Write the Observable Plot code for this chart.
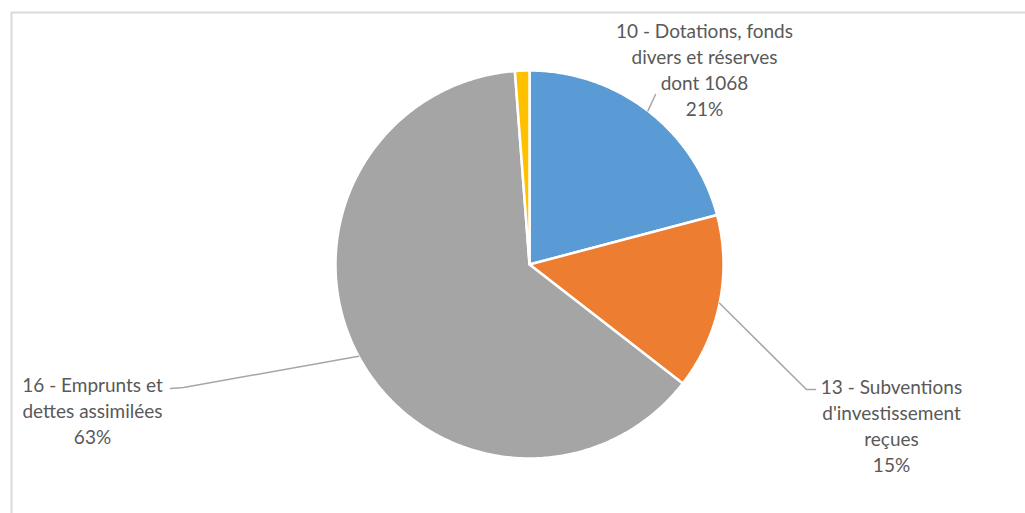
<!DOCTYPE html>
<html><head><meta charset="utf-8">
<script src="https://cdn.jsdelivr.net/npm/d3@7"></script>
<script src="https://cdn.jsdelivr.net/npm/@observablehq/plot@0.6"></script>
<style>html,body{margin:0;padding:0;background:#fff;overflow:hidden}</style>
</head><body><div id="chart"></div>
<script>
// ---- data ----
const categories = [
  "10 - Dotations, fonds divers et réserves dont 1068",
  "13 - Subventions d'investissement reçues",
  "16 - Emprunts et dettes assimilées",
  "Autres"
];
const shares = [20.9, 14.6, 63.3, 1.2];
const percentLabels = ["21%", "15%", "63%", ""];
const labelLines = [
  ["10 - Dotations, fonds", "divers et réserves", "dont 1068"],
  ["13 - Subventions", "d'investissement", "reçues"],
  ["16 - Emprunts et", "dettes assimilées"],
  null
];
const colors = ["#5B9BD5", "#ED7D31", "#A5A5A5", "#FFC000"];

// ---- layout (pixels) ----
const W = 1025, H = 513, CX = 529, CY = 264, R = 194;
const labelPos = [[704, 68.5], [891, 424], [92, 409], null];
const leaderBends = [[[655, 94]], [[806, 389], [815, 389]], [[183, 387], [170, 388]], null];

const toX = px => (px - CX) / R;
const toY = py => (CY - py) / R;

const arcs = d3.pie().sort(null).value(d => d)(shares);

const slicePts = [];
arcs.forEach((a, i) => {
  const name = categories[i];
  slicePts.push({name, x: 0, y: 0});
  const n = Math.max(2, Math.ceil((a.endAngle - a.startAngle) / 0.01));
  for (let k = 0; k <= n; k++) {
    const t = a.startAngle + (a.endAngle - a.startAngle) * k / n;
    slicePts.push({name, x: Math.sin(t), y: Math.cos(t)});
  }
  slicePts.push({name, x: 0, y: 0});
});

const leaderPts = [];
const labels = [];
arcs.forEach((a, i) => {
  if (!labelLines[i]) return;
  const name = categories[i];
  const mid = (a.startAngle + a.endAngle) / 2;
  leaderPts.push({name, x: Math.sin(mid), y: Math.cos(mid)});
  leaderBends[i].forEach(([px, py]) => leaderPts.push({name, x: toX(px), y: toY(py)}));
  labels.push({
    name,
    x: toX(labelPos[i][0]),
    y: toY(labelPos[i][1]),
    text: [...labelLines[i], percentLabels[i]].join("\n")
  });
});

const chart = Plot.plot({
  width: W,
  height: H,
  margin: 0,
  x: {domain: [toX(0), toX(W)], axis: null},
  y: {domain: [toY(H), toY(0)], axis: null},
  color: {domain: categories, range: colors},
  marks: [
    Plot.frame({stroke: "#D9D9D9", strokeWidth: 2, insetLeft: 11, insetTop: 12, insetRight: -10, insetBottom: -10}),
    Plot.line(slicePts, {x: "x", y: "y", z: "name", fill: "name", stroke: "white", strokeWidth: 2.5, strokeLinejoin: "round"}),
    Plot.line(leaderPts, {x: "x", y: "y", z: "name", stroke: "#A6A6A6", strokeWidth: 1.5}),
    Plot.text(labels, {
      x: "x", y: "y", text: "text",
      textAnchor: "middle", lineAnchor: "middle", lineHeight: 1.37,
      fontSize: 19, fill: "#595959", fontFamily: "Lato"
    })
  ]
});
document.getElementById("chart").appendChild(chart);
</script>
</body></html>
